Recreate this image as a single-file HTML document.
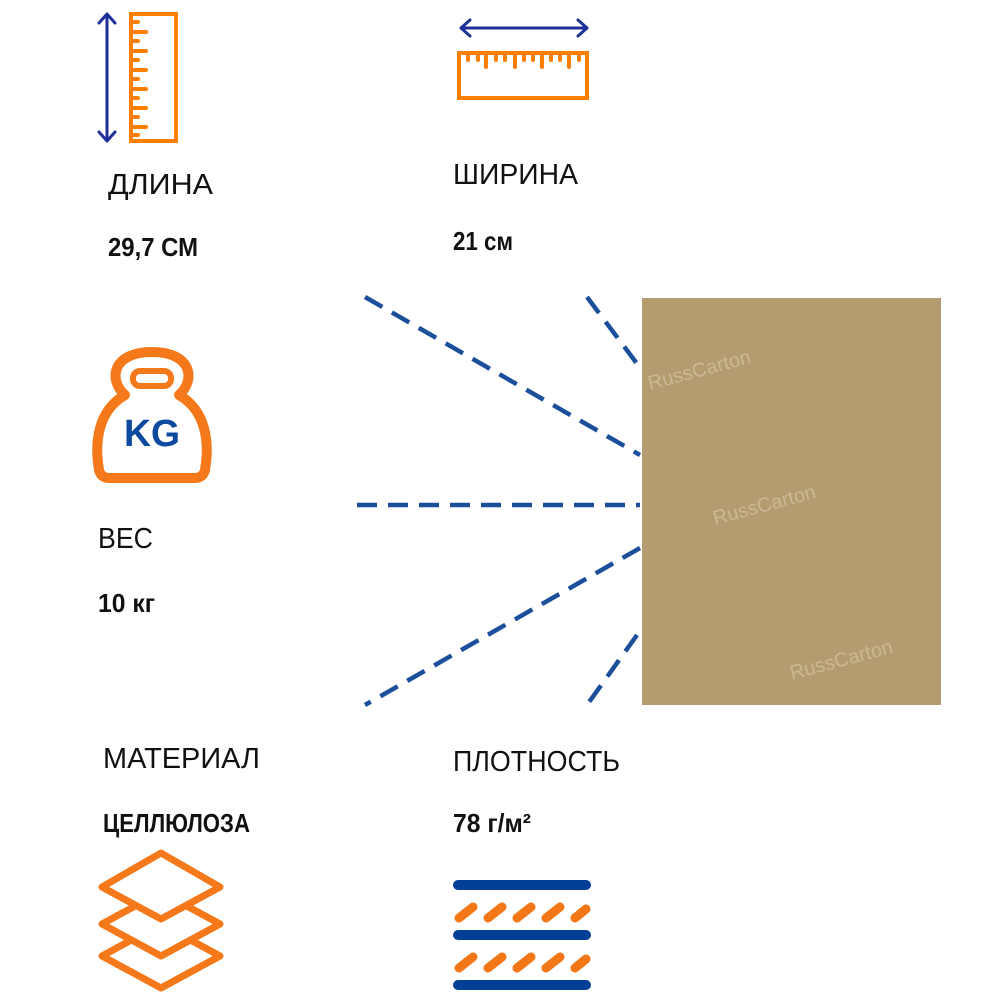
<!DOCTYPE html>
<html><head><meta charset="utf-8"><style>
html,body{margin:0;padding:0;background:#fff;width:1000px;height:1000px;overflow:hidden}
svg{display:block}
.t{font-family:"Liberation Sans",sans-serif;fill:#111}
</style></head><body>
<svg width="1000" height="1000" viewBox="0 0 1000 1000" xmlns="http://www.w3.org/2000/svg">
<g stroke="#1f2f9a" stroke-width="3" fill="none" stroke-linecap="round" stroke-linejoin="round">
<line x1="107" y1="15" x2="107" y2="140"/>
<polyline points="99,23 107,14 115,23"/>
<polyline points="99,132 107,141 115,132"/>
<line x1="462" y1="28" x2="586" y2="28"/>
<polyline points="470,20 461,28 470,36"/>
<polyline points="578,20 587,28 578,36"/>
</g>
<g stroke="#ff7f00" stroke-width="4" fill="none" stroke-linecap="round">
<rect x="131" y="14" width="45" height="127"/>
<path d="M131 22h7M131 32h15M131 41h7M131 51h15M131 60h7M131 70h15M131 79h7M131 89h15M131 98h7M131 108h15M131 117h7M131 127h15M131 135h7"/>
<rect x="459" y="53" width="128" height="45"/>
<path d="M468 53v7M478 53v7M486 53v14M496 53v7M505 53v7M515 53v14M524 53v7M533 53v7M542 53v14M551 53v7M560 53v7M569 53v14M579 53v7"/>
</g>
<path d="M125 395 C108 380,112 352,152 352 C192 352,196 380,179 395 C205 410,210 440,205 470 Q203 478,195 478 L109 478 Q101 478,99 470 C94 440,99 410,125 395 Z" fill="none" stroke="#f5791a" stroke-width="10" stroke-linejoin="round"/>
<rect x="133" y="371" width="38" height="15" rx="7" fill="none" stroke="#f5791a" stroke-width="6"/>
<text x="152" y="446" text-anchor="middle" font-family="Liberation Sans,sans-serif" font-weight="bold" font-size="38" fill="#0c4aa0" textLength="56" lengthAdjust="spacingAndGlyphs">KG</text>
<g fill="none" stroke="#f5791a" stroke-width="7" stroke-linejoin="round">
<polygon points="161,924 102,956 161,988 220,956"/>
<polygon points="161,892 102,924 161,956 220,924" fill="#fff"/>
<polygon points="161,853 102,887 161,919 220,887" fill="#fff"/>
</g>
<g stroke-linecap="round">
<g stroke="#003f98" stroke-width="10">
<line x1="458" y1="885" x2="586" y2="885"/>
<line x1="458" y1="935" x2="586" y2="935"/>
<line x1="458" y1="985" x2="586" y2="985"/>
</g>
<g stroke="#f37716" stroke-width="9">
<path d="M459 918l14-11M488 918l14-11M517 918l14-11M546 918l14-11M575 918l11-9"/>
<path d="M459 968l14-11M488 968l14-11M517 968l14-11M546 968l14-11M575 968l11-9"/>
</g>
</g>
<rect x="642" y="298" width="299" height="407" fill="#b49c70"/>
<g font-family="Liberation Sans,sans-serif" fill="#d5c6a6" opacity="0.7" font-size="20">
<text x="650" y="390" transform="rotate(-15 650 390)">RussCarton</text>
<text x="715" y="525" transform="rotate(-15 715 525)">RussCarton</text>
<text x="792" y="680" transform="rotate(-15 792 680)">RussCarton</text>
</g>
<g stroke="#1b4f9c" stroke-width="4.5" stroke-dasharray="20 11" fill="none">
<line x1="365" y1="297" x2="640" y2="455"/>
<line x1="587" y1="297" x2="638" y2="365"/>
<line x1="357" y1="505" x2="640" y2="505"/>
<line x1="640" y1="548" x2="365" y2="705"/>
<line x1="637" y1="635" x2="587" y2="705"/>
</g>
<g class="t" font-size="29">
<text x="108" y="194" textLength="105" lengthAdjust="spacingAndGlyphs">ДЛИНА</text>
<text x="453" y="184" textLength="125" lengthAdjust="spacingAndGlyphs">ШИРИНА</text>
<text x="98" y="548" textLength="55" lengthAdjust="spacingAndGlyphs">ВЕС</text>
<text x="103" y="768" textLength="157" lengthAdjust="spacingAndGlyphs">МАТЕРИАЛ</text>
<text x="453" y="771" textLength="167" lengthAdjust="spacingAndGlyphs">ПЛОТНОСТЬ</text>
</g>
<g class="t" font-size="26" font-weight="bold">
<text x="108" y="256" textLength="90" lengthAdjust="spacingAndGlyphs">29,7 СМ</text>
<text x="453" y="250" textLength="60" lengthAdjust="spacingAndGlyphs">21 см</text>
<text x="98" y="612" textLength="57" lengthAdjust="spacingAndGlyphs">10 кг</text>
<text x="103" y="832" textLength="147" lengthAdjust="spacingAndGlyphs">ЦЕЛЛЮЛОЗА</text>
<text x="453" y="832" textLength="78" lengthAdjust="spacingAndGlyphs">78 г/м²</text>
</g>
</svg>
</body></html>
